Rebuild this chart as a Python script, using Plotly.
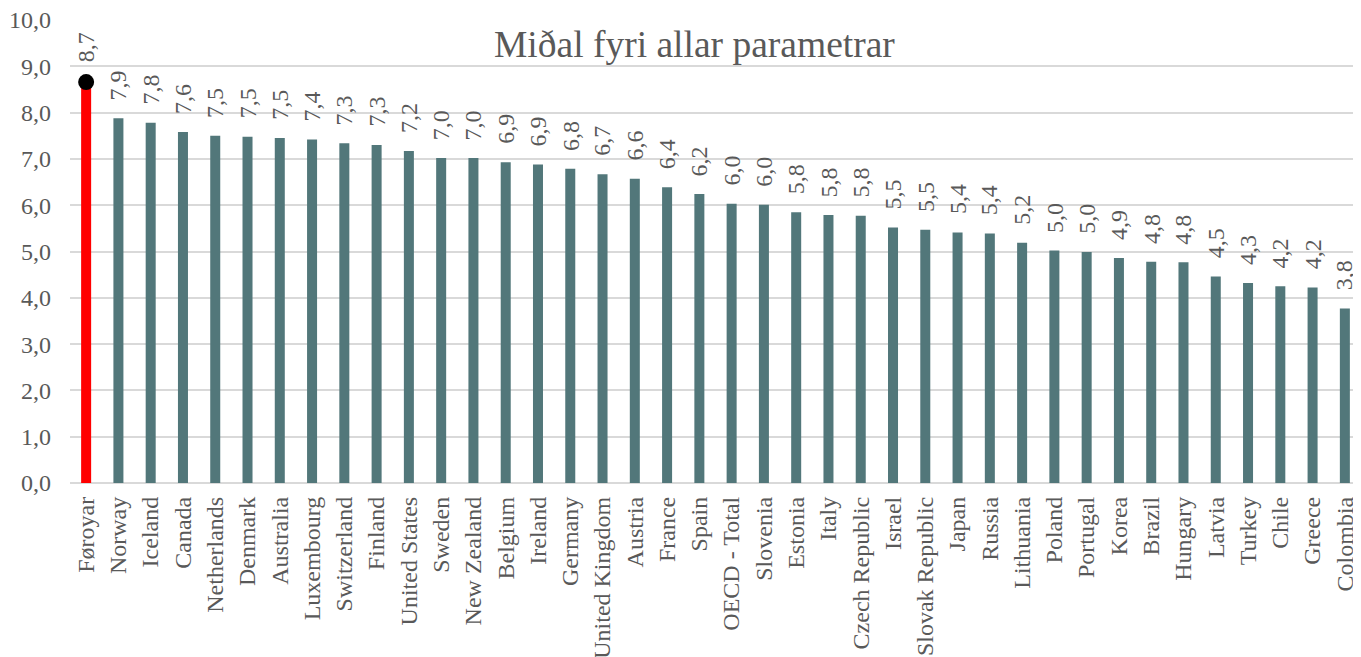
import plotly.graph_objects as go

countries = ["Føroyar", "Norway", "Iceland", "Canada", "Netherlands", "Denmark", "Australia",
             "Luxembourg", "Switzerland", "Finland", "United States", "Sweden", "New Zealand",
             "Belgium", "Ireland", "Germany", "United Kingdom", "Austria", "France", "Spain",
             "OECD - Total", "Slovenia", "Estonia", "Italy", "Czech Republic", "Israel",
             "Slovak Republic", "Japan", "Russia", "Lithuania", "Poland", "Portugal", "Korea",
             "Brazil", "Hungary", "Latvia", "Turkey", "Chile", "Greece", "Colombia"]
values = [8.66, 7.88, 7.78, 7.58, 7.50, 7.48, 7.45, 7.42, 7.34, 7.30, 7.17, 7.02, 7.02,
          6.93, 6.88, 6.79, 6.67, 6.57, 6.39, 6.24, 6.03, 6.01, 5.85, 5.79, 5.77, 5.52,
          5.47, 5.41, 5.39, 5.19, 5.02, 4.99, 4.86, 4.78, 4.77, 4.46, 4.32, 4.25, 4.22, 3.77]
highlight = "Føroyar"

title_text = "Miðal fyri allar parametrar"
y_ticks = [0, 1, 2, 3, 4, 5, 6, 7, 8, 9, 10]

TEAL = "#52777A"
RED = "#FF0000"
GREY = "#595959"
FONT = "Liberation Serif"

colors = [RED if c == highlight else TEAL for c in countries]

fig = go.Figure()
fig.add_trace(go.Bar(x=countries, y=values, marker=dict(color=colors, line=dict(width=0)),
                     hoverinfo="x+y"))
hi_idx = countries.index(highlight)
fig.add_trace(go.Scatter(x=[countries[hi_idx]], y=[values[hi_idx]], mode="markers",
                         marker=dict(color="black", size=16), hoverinfo="skip", cliponaxis=False))

for c, v in zip(countries, values):
    fig.add_annotation(x=c, y=v, text=f"{v:.1f}".replace(".", ","), showarrow=False,
                       textangle=-90, yanchor="bottom", xanchor="center",
                       yshift=18 if c == highlight else 16,
                       font=dict(family=FONT, size=24, color=GREY))

fig.add_annotation(x=0.484, y=1 - 25 / 463, xref="paper", yref="paper",
                   text=title_text, showarrow=False, yanchor="middle", xanchor="center",
                   font=dict(family=FONT, size=37.5, color=GREY))

# the page body adds an 8px offset; compensate so the plot area sits where the reference has it
fig.update_layout(
    width=1353, height=649,
    margin=dict(l=62, r=0, t=12, b=174),
    plot_bgcolor="white", paper_bgcolor="white",
    separators=", ",
    showlegend=False,
    bargap=0.69,
    font=dict(family=FONT, color=GREY, size=24),
)
fig.update_xaxes(tickangle=-90, tickfont=dict(family=FONT, size=24, color=GREY),
                 showgrid=False, showline=False, ticks="", automargin=False,
                 range=[-0.5, len(countries) - 0.5], ticklabeloverflow="allow",
                 ticklabelstandoff=8)
fig.update_yaxes(range=[0, 10.0001], tickvals=y_ticks, tickformat=".1f",
                 tickfont=dict(family=FONT, size=24, color=GREY),
                 gridcolor="#D9D9D9", gridwidth=1.5, zeroline=True, zerolinecolor="#D9D9D9",
                 zerolinewidth=1.5, showline=False, ticks="", ticklabelstandoff=18,
                 automargin=False, ticklabeloverflow="allow")

fig.write_html("out.html")
